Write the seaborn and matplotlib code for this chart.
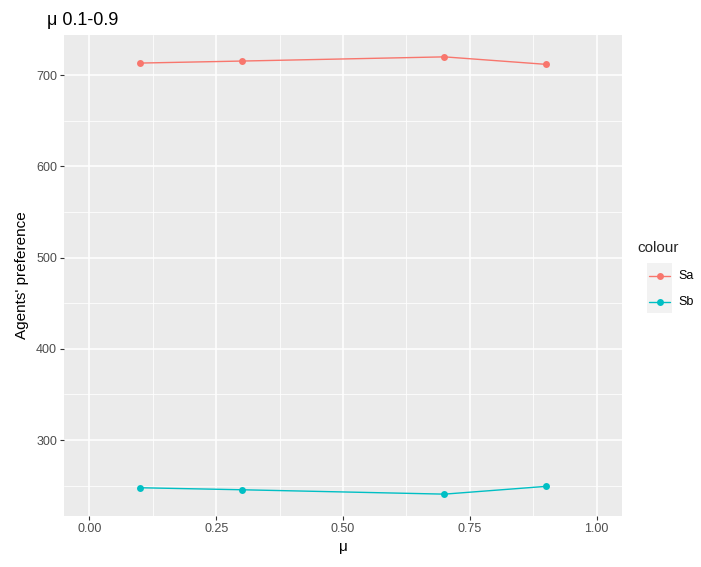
import numpy as np
import pandas as pd
import matplotlib
matplotlib.use("Agg")
import matplotlib.pyplot as plt
from matplotlib.lines import Line2D
from matplotlib.patches import Rectangle
import seaborn as sns

mu = [0.1, 0.3, 0.7, 0.9]
sa = [713.2, 715.4, 720.0, 711.8]
sb = [247.8, 245.6, 240.8, 249.3]
series_names = ["Sa", "Sb"]
palette = ["#F8766D", "#00BFC4"]
x_ticks = [0.0, 0.25, 0.5, 0.75, 1.0]
x_tick_labels = ["0.00", "0.25", "0.50", "0.75", "1.00"]
y_ticks = [300, 400, 500, 600, 700]

df = pd.DataFrame({
    "mu": mu * 2,
    "value": sa + sb,
    "colour": [series_names[0]] * len(mu) + [series_names[1]] * len(mu),
})

sns.set_theme(style="white")
plt.rcParams["font.family"] = ["Liberation Sans", "DejaVu Sans"]

fig = plt.figure(figsize=(7.01, 5.67), dpi=100)
ax = fig.add_axes([64 / 701, 1 - 516 / 567, (622 - 64) / 701, (516 - 35) / 567])
ax.set_facecolor("#EBEBEB")

sns.lineplot(data=df, x="mu", y="value", hue="colour", palette=palette,
             marker="o", markersize=5, markeredgewidth=0, linewidth=1.0,
             legend=False, ax=ax, zorder=3)

# axis limits with ggplot-style expansion
ax.set_xlim(-0.05, 1.05)
ymin, ymax = min(sb), max(sa)
pad = (ymax - ymin) * 0.05
ax.set_ylim(ymin - pad, ymax + pad)

ax.set_xticks(x_ticks)
ax.set_xticklabels(x_tick_labels)
ax.set_yticks(y_ticks)
ax.set_xticks([0.125, 0.375, 0.625, 0.875], minor=True)
ax.set_yticks([250, 350, 450, 550, 650], minor=True)

ax.grid(True, which="major", color="white", linewidth=1.1, zorder=0)
ax.grid(True, which="minor", color="white", linewidth=0.55, zorder=0)
ax.set_axisbelow(True)
for s in ax.spines.values():
    s.set_visible(False)

ax.tick_params(axis="both", which="major", length=3, width=0.8, color="#333333",
               labelcolor="#4D4D4D", labelsize=9, pad=2, bottom=True, left=True)
ax.tick_params(axis="both", which="minor", length=0)

ax.set_xlabel("μ", fontsize=11, color="black", labelpad=4)
ax.set_ylabel("Agents' preference", fontsize=11, color="black", labelpad=5)
ax.set_title("μ 0.1-0.9", loc="left", fontsize=13, color="black", pad=7,
             x=-0.031)

# legend
fig.text(637 / 701, 1 - 248 / 567, "colour", fontsize=11, va="center", ha="left")
fig.patches.append(Rectangle((647 / 701, 1 - 313 / 567), 25 / 701, 50 / 567,
                             transform=fig.transFigure, facecolor="#F2F2F2",
                             edgecolor="none"))
for i, (name, col) in enumerate(zip(series_names, palette)):
    yk = 1 - (276 + 26 * i) / 567
    fig.add_artist(Line2D([649 / 701, 670 / 701], [yk, yk], color=col,
                          linewidth=1.0, transform=fig.transFigure))
    fig.add_artist(Line2D([659.5 / 701], [yk], color=col, marker="o",
                          markersize=5, markeredgewidth=0,
                          transform=fig.transFigure))
    fig.text(678 / 701, yk, name, fontsize=9, va="center", ha="left",
             color="black")

fig.savefig("out.png", dpi=100)
